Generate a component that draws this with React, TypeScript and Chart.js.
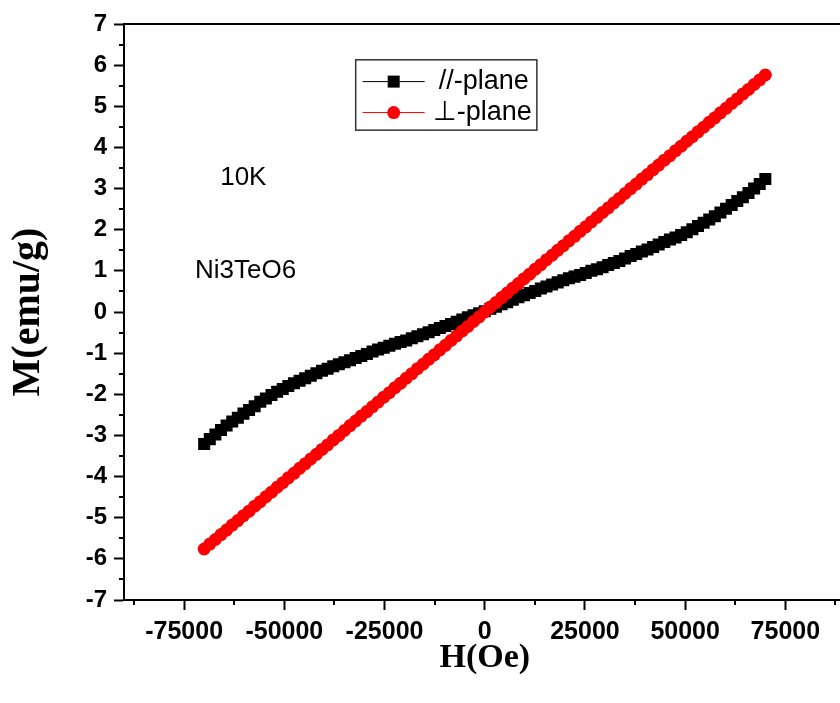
import React, { useEffect, useRef } from "react";
import { Chart, registerables } from "chart.js";

Chart.register(...registerables);

// Applied field H (Oe)
const H_FIELD = [
  -70000, -68600, -67200, -65800, -64400, -63000, -61600, -60200, -58800, -57400,
  -56000, -54600, -53200, -51800, -50400, -49000, -47600, -46200, -44800, -43400,
  -42000, -40600, -39200, -37800, -36400, -35000, -33600, -32200, -30800, -29400,
  -28000, -26600, -25200, -23800, -22400, -21000, -19600, -18200, -16800, -15400,
  -14000, -12600, -11200, -9800, -8400, -7000, -5600, -4200, -2800, -1400,
  0,
  1400, 2800, 4200, 5600, 7000, 8400, 9800, 11200, 12600, 14000,
  15400, 16800, 18200, 19600, 21000, 22400, 23800, 25200, 26600, 28000,
  29400, 30800, 32200, 33600, 35000, 36400, 37800, 39200, 40600, 42000,
  43400, 44800, 46200, 47600, 49000, 50400, 51800, 53200, 54600, 56000,
  57400, 58800, 60200, 61600, 63000, 64400, 65800, 67200, 68600, 70000,
];

// M (emu/g), field parallel to plane
const M_PARALLEL = [
  -3.21, -3.09, -2.98, -2.87, -2.76, -2.66, -2.57, -2.47, -2.38, -2.29,
  -2.18, -2.1, -2.02, -1.94, -1.87, -1.8, -1.73, -1.67, -1.61, -1.55,
  -1.49, -1.43, -1.38, -1.32, -1.27, -1.22, -1.17, -1.12, -1.07, -1.02,
  -0.96, -0.91, -0.87, -0.82, -0.77, -0.73, -0.69, -0.64, -0.59, -0.54,
  -0.49, -0.44, -0.39, -0.34, -0.29, -0.24, -0.18, -0.13, -0.08, -0.03,
  0.02,
  0.08, 0.13, 0.19, 0.24, 0.3, 0.36, 0.41, 0.46, 0.51, 0.57,
  0.62, 0.67, 0.72, 0.77, 0.82, 0.86, 0.9, 0.95, 1.0, 1.04,
  1.09, 1.14, 1.19, 1.24, 1.3, 1.36, 1.41, 1.47, 1.52, 1.58,
  1.64, 1.7, 1.76, 1.81, 1.87, 1.94, 2.01, 2.09, 2.17, 2.25,
  2.33, 2.42, 2.51, 2.6, 2.7, 2.79, 2.89, 3.0, 3.11, 3.23,
];

// M (emu/g), field perpendicular to plane
const M_PERP = [
  -5.76, -5.64, -5.53, -5.41, -5.3, -5.18, -5.07, -4.95, -4.84, -4.72,
  -4.61, -4.49, -4.38, -4.26, -4.15, -4.03, -3.92, -3.8, -3.69, -3.57,
  -3.46, -3.34, -3.23, -3.11, -3.0, -2.88, -2.76, -2.65, -2.53, -2.42,
  -2.3, -2.19, -2.07, -1.96, -1.84, -1.73, -1.61, -1.5, -1.38, -1.27,
  -1.15, -1.04, -0.92, -0.81, -0.69, -0.58, -0.46, -0.35, -0.23, -0.12,
  0.0,
  0.12, 0.23, 0.35, 0.46, 0.58, 0.69, 0.81, 0.92, 1.04, 1.15,
  1.27, 1.38, 1.5, 1.61, 1.73, 1.84, 1.96, 2.07, 2.19, 2.3,
  2.42, 2.53, 2.65, 2.76, 2.88, 3.0, 3.11, 3.23, 3.34, 3.46,
  3.57, 3.69, 3.8, 3.92, 4.03, 4.15, 4.26, 4.38, 4.49, 4.61,
  4.72, 4.84, 4.95, 5.07, 5.18, 5.3, 5.41, 5.53, 5.64, 5.76,
];

const SERIES_NAMES = ["//-plane", "\u22A5-plane"];
const X_TICKS = [-75000, -50000, -25000, 0, 25000, 50000, 75000];
const X_MINOR = [-87500, -62500, -37500, -12500, 12500, 37500, 62500, 87500];
const Y_MINOR = [-6.5, -5.5, -4.5, -3.5, -2.5, -1.5, -0.5, 0.5, 1.5, 2.5, 3.5, 4.5, 5.5, 6.5];
const NOTES = [
  { text: "10K", x: -66000, y: 3.09 },
  { text: "Ni3TeO6", x: -72300, y: 0.83 },
];
const LEGEND_BOX = { x0: -32200, x1: 13000, y0: 6.13, y1: 4.42 };

const SANS = '"Liberation Sans", Arial, Helvetica, sans-serif';
const SERIF = '"Liberation Serif", "Times New Roman", Times, serif';

const framePlugin = {
  id: "frameAndNotes",
  afterDraw(chart: any) {
    const ctx = chart.ctx as CanvasRenderingContext2D;
    const { left, top, right, bottom } = chart.chartArea;
    const xs = chart.scales.x;
    const ys = chart.scales.y;
    ctx.save();
    ctx.strokeStyle = "#000";
    ctx.lineWidth = 2;
    ctx.beginPath();
    ctx.moveTo(left, top);
    ctx.lineTo(right, top);
    ctx.lineTo(right, bottom);
    ctx.stroke();
    // minor ticks
    ctx.beginPath();
    for (const v of X_MINOR) {
      const px = Math.round(xs.getPixelForValue(v));
      ctx.moveTo(px, bottom);
      ctx.lineTo(px, bottom + 5);
    }
    for (const v of Y_MINOR) {
      const py = Math.round(ys.getPixelForValue(v));
      ctx.moveTo(left - 5, py);
      ctx.lineTo(left, py);
    }
    ctx.stroke();

    // annotations
    ctx.fillStyle = "#000";
    ctx.font = `26px ${SANS}`;
    ctx.textAlign = "left";
    ctx.textBaseline = "alphabetic";
    for (const n of NOTES) {
      ctx.fillText(n.text, xs.getPixelForValue(n.x), ys.getPixelForValue(n.y));
    }

    // legend
    const bx0 = xs.getPixelForValue(LEGEND_BOX.x0);
    const bx1 = xs.getPixelForValue(LEGEND_BOX.x1);
    const by0 = ys.getPixelForValue(LEGEND_BOX.y0);
    const by1 = ys.getPixelForValue(LEGEND_BOX.y1);
    ctx.strokeStyle = "#333";
    ctx.lineWidth = 1.5;
    ctx.strokeRect(bx0, by0, bx1 - bx0, by1 - by0);
    const h = by1 - by0;
    chart.data.datasets.forEach((ds: any, i: number) => {
      const cy = by0 + h * (0.31 + 0.44 * i);
      const lx0 = bx0 + 7;
      const lx1 = bx0 + 69;
      const mx = (lx0 + lx1) / 2;
      ctx.strokeStyle = ds.borderColor;
      ctx.lineWidth = 1;
      ctx.beginPath();
      ctx.moveTo(lx0, cy);
      ctx.lineTo(lx1, cy);
      ctx.stroke();
      ctx.fillStyle = ds.pointBackgroundColor;
      if (ds.pointStyle === "rect") {
        ctx.fillRect(mx - 6, cy - 6, 12, 12);
      } else {
        ctx.beginPath();
        ctx.arc(mx, cy, 6.5, 0, Math.PI * 2);
        ctx.fill();
      }
      ctx.fillStyle = "#000";
      ctx.font = `27px ${SANS}`;
      ctx.textBaseline = "middle";
      ctx.fillText(ds.label, bx0 + (i === 0 ? 83 : 77), cy);
    });
    ctx.restore();
  },
};

export default function App() {
  const ref = useRef<HTMLCanvasElement | null>(null);
  useEffect(() => {
    if (!ref.current) return;
    const chart = new Chart(ref.current, {
      type: "scatter",
      data: {
        datasets: [
          {
            label: SERIES_NAMES[0],
            data: H_FIELD.map((x, i) => ({ x, y: M_PARALLEL[i] })),
            showLine: true,
            borderColor: "#000",
            borderWidth: 1,
            pointStyle: "rect",
            pointRadius: 8.5,
            pointBackgroundColor: "#000",
            pointBorderWidth: 0,
            order: 2,
          },
          {
            label: SERIES_NAMES[1],
            data: H_FIELD.map((x, i) => ({ x, y: M_PERP[i] })),
            showLine: true,
            borderColor: "#ff0000",
            borderWidth: 1,
            pointStyle: "circle",
            pointRadius: 6.5,
            pointBackgroundColor: "#ff0000",
            pointBorderWidth: 0,
            order: 1,
          },
        ],
      },
      options: {
        animation: false,
        responsive: false,
        devicePixelRatio: 1,
        events: [],
        layout: { padding: { top: 24, right: 2, left: 0, bottom: 0 } },
        plugins: { legend: { display: false }, tooltip: { enabled: false } },
        scales: {
          x: {
            type: "linear",
            min: -90000,
            max: 90000,
            afterBuildTicks: (s: any) => {
              s.ticks = X_TICKS.map((v) => ({ value: v }));
            },
            afterFit: (s: any) => {
              s.height = 103;
            },
            ticks: {
              color: "#000",
              font: { family: SANS, size: 25, weight: "bold" },
              padding: 7,
              maxRotation: 0,
              autoSkip: false,
              callback: (v: any) => String(v),
            },
            grid: {
              drawOnChartArea: false,
              drawTicks: true,
              tickLength: 10,
              tickWidth: 2,
              tickColor: "#000",
            },
            border: { display: true, color: "#000", width: 2 },
            title: {
              display: true,
              text: "H(Oe)",
              color: "#000",
              font: { family: SERIF, size: 34, weight: "bold", lineHeight: 1.2 },
              padding: { top: 0, bottom: 24 },
            },
          },
          y: {
            type: "linear",
            min: -7,
            max: 7,
            afterFit: (s: any) => {
              s.width = 124;
            },
            ticks: {
              stepSize: 1,
              color: "#000",
              font: { family: SANS, size: 24, weight: "bold" },
              padding: 7,
              callback: (v: any) => String(v),
            },
            grid: {
              drawOnChartArea: false,
              drawTicks: true,
              tickLength: 10,
              tickWidth: 2,
              tickColor: "#000",
            },
            border: { display: true, color: "#000", width: 2 },
            title: {
              display: true,
              text: "M(emu/g)",
              color: "#000",
              font: { family: SERIF, size: 40, weight: "bold", lineHeight: 1.2 },
              padding: { top: 5, bottom: 0 },
            },
          },
        },
      },
      plugins: [framePlugin],
    } as any);
    return () => chart.destroy();
  }, []);

  return (
    <div
      style={{
        position: "fixed",
        left: 0,
        top: 0,
        width: 840,
        height: 703,
        overflow: "hidden",
        background: "#fff",
      }}
    >
      <canvas ref={ref} width={854} height={703} style={{ display: "block", width: 854, height: 703 }} />
    </div>
  );
}
